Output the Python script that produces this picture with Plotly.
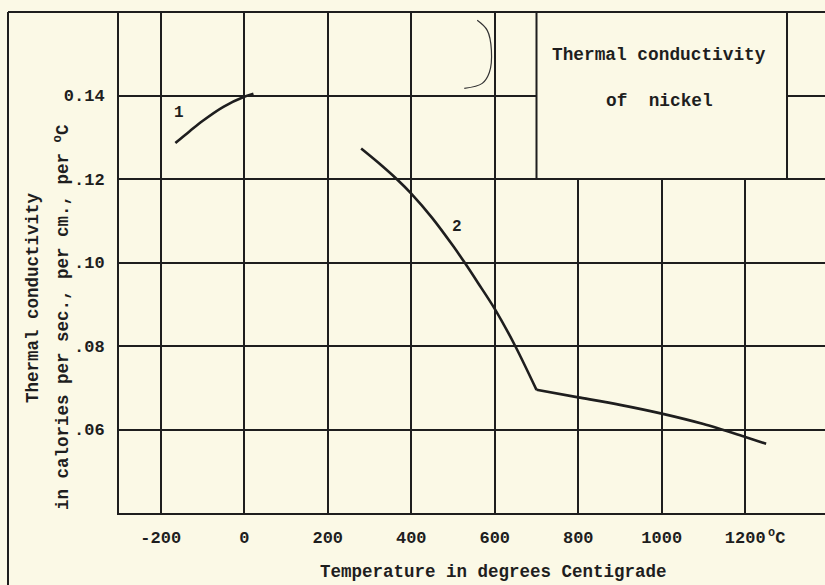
import plotly.graph_objects as go

# ---------------- data ----------------
curve1_t = [-165, -130, -100, -50, 0, 22]
curve1_k = [0.1286, 0.1315, 0.1339, 0.1373, 0.1397, 0.1404]

# curve 2: steep branch up to the knee at 700 C, then the flat branch
curve2a_t = [280, 320, 365, 400, 450, 500, 527, 560, 600, 649, 700]
curve2a_k = [0.1273, 0.1240, 0.1200, 0.1165, 0.1107, 0.1040, 0.1001, 0.0951, 0.0889, 0.0800, 0.0695]
curve2b_t = [700, 800, 900, 1000, 1100, 1200, 1250]
curve2b_k = [0.0695, 0.0677, 0.0659, 0.0638, 0.0613, 0.0582, 0.0566]

# hand-drawn bracket mark near the top
mark_t = [558, 582, 592, 587, 570, 527]
mark_k = [0.1580, 0.1556, 0.1508, 0.1455, 0.1429, 0.1417]

x_ticks = [-200, 0, 200, 400, 600, 800, 1000, 1200]
x_ticktext = ["-200", "0", "200", "400", "600", "800", "1000", "1200"]
y_ticks = [0.06, 0.08, 0.10, 0.12, 0.14]
y_ticktext = [".06", ".08", ".10", ".12", "0.14"]

x_range = [-300, 1391]
y_range = [0.04, 0.16]

BG = "#fbf9e6"
INK = "#1e1e1e"
FONT = "Liberation Mono"


def f(size):
    return dict(family=FONT, size=size, color=INK, weight="bold")


fig = go.Figure()
for xs, ys in [(curve1_t, curve1_k), (curve2a_t, curve2a_k), (curve2b_t, curve2b_k)]:
    fig.add_trace(go.Scatter(x=xs, y=ys, mode="lines", line=dict(color=INK, width=2.6, shape="spline", smoothing=0.8),
                             showlegend=False, hoverinfo="skip"))
fig.add_trace(go.Scatter(x=mark_t, y=mark_k, mode="lines", line=dict(color="#333333", width=1.2, shape="spline"),
                         showlegend=False, hoverinfo="skip"))

W, H = 825, 585
L, R, T, B = 119, 0, 12, 72
pw, ph = W - L - R, H - T - B


def px(x):
    return (x - L) / pw


def py(y):
    return (H - B - y) / ph


fig.update_layout(
    width=W, height=H, autosize=False,
    margin=dict(l=L, r=R, t=T, b=B, pad=0),
    paper_bgcolor=BG, plot_bgcolor=BG,
    font=f(17),
    xaxis=dict(range=x_range, tickvals=x_ticks, ticktext=x_ticktext, showgrid=True, gridcolor=INK,
               gridwidth=1.5, zeroline=False, showline=True, linecolor=INK, linewidth=2, ticks="",
               ticklabelstandoff=8, tickfont=f(17)),
    yaxis=dict(range=y_range, tickvals=y_ticks, ticktext=y_ticktext, showgrid=True, gridcolor=INK,
               gridwidth=1.5, zeroline=False, showline=True, linecolor=INK, linewidth=2, ticks="",
               ticklabelstandoff=9, tickfont=f(17)),
)

# frame lines
fig.add_shape(type="line", xref="paper", yref="paper", x0=px(8), x1=1.0, y0=1, y1=1,
              line=dict(color=INK, width=2))
fig.add_shape(type="line", xref="paper", yref="paper", x0=px(8), x1=px(8), y0=1, y1=py(600),
              line=dict(color=INK, width=2))

# title box
fig.add_shape(type="rect", xref="x", yref="y", x0=700, x1=1300, y0=0.12, y1=0.16,
              fillcolor=BG, line=dict(color=INK, width=2), layer="above")
fig.add_annotation(x=994, y=0.1496, xref="x", yref="y", text="Thermal conductivity", showarrow=False,
                   xanchor="center", yanchor="middle", font=f(17.8))
fig.add_annotation(x=994, y=0.1388, xref="x", yref="y", text="of\u00a0 nickel", showarrow=False,
                   xanchor="center", yanchor="middle", font=f(17.8))

# curve labels
fig.add_annotation(x=-156, y=0.1357, xref="x", yref="y", text="1", showarrow=False,
                   xanchor="center", yanchor="middle", font=f(16))
fig.add_annotation(x=510, y=0.1086, xref="x", yref="y", text="2", showarrow=False,
                   xanchor="center", yanchor="middle", font=f(16))

# degree unit after 1200
fig.add_annotation(x=1249, y=py(537), xref="x", yref="paper", xanchor="left", yanchor="middle",
                   text="<sup>o</sup>C", showarrow=False, font=f(17))

# axis titles
fig.add_annotation(x=px(493), y=py(572), xref="paper", yref="paper", text="Temperature in degrees Centigrade",
                   xanchor="center", yanchor="middle", showarrow=False, font=f(17.5))
fig.add_annotation(x=px(33), y=py(298), xref="paper", yref="paper", text="Thermal conductivity",
                   xanchor="center", yanchor="middle", textangle=-90, showarrow=False, font=f(17.5))
fig.add_annotation(x=px(62), y=py(317), xref="paper", yref="paper",
                   text="in calories per sec., per cm., per <sup>o</sup>C",
                   xanchor="center", yanchor="middle", textangle=-90, showarrow=False, font=f(17.5))

fig.write_html("out.html")
